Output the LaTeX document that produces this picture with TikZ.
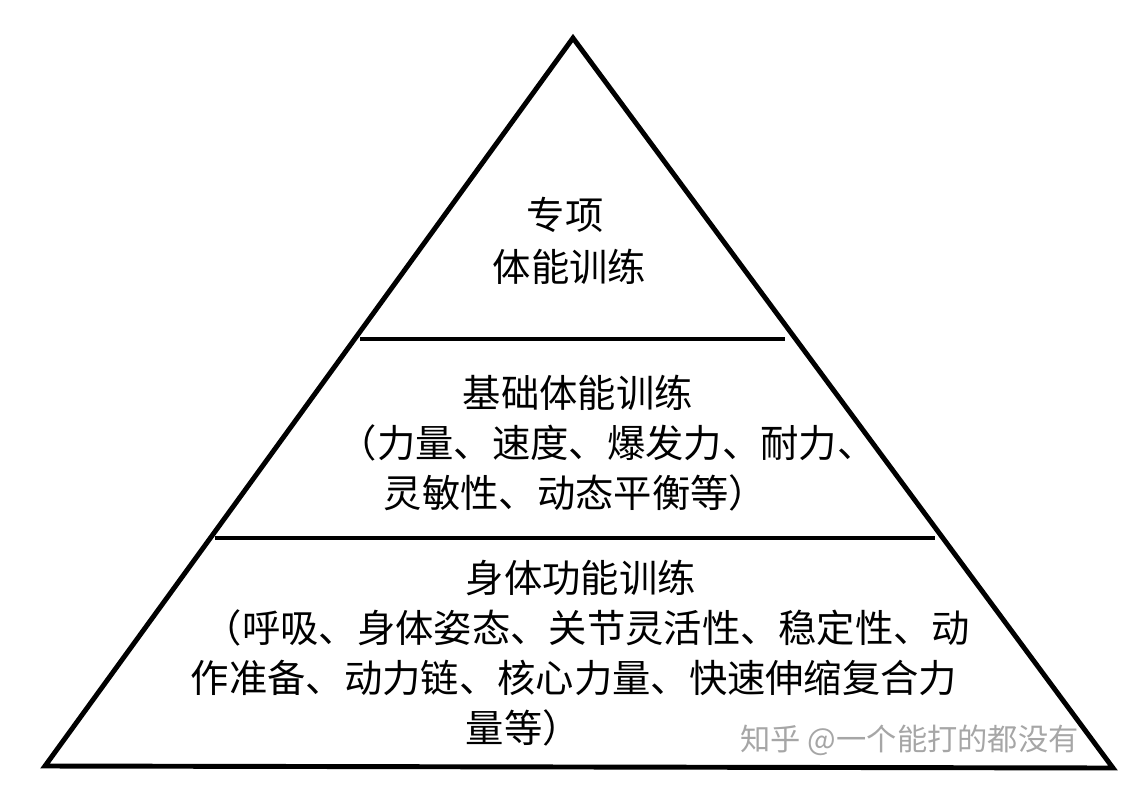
\documentclass[tikz,border=0pt]{standalone}
\usepackage{fontspec}
\setmainfont{Noto Sans CJK SC}
\begin{document}
\begin{tikzpicture}[x=0.01cm, y=-0.01cm]
\tikzset{txt/.style={anchor=west, inner sep=0, font=\fontsize{10.9}{13}\selectfont}}
\useasboundingbox (0,0) rectangle (1138,790);
\coordinate (top) at (573,38);
\coordinate (bl) at (45,766);
\coordinate (br) at (1113,768);
\coordinate (l1) at (360,339);
\coordinate (r1) at (785,339);
\coordinate (l2) at (215,538);
\coordinate (r2) at (935,538);
\draw [line width=1.4pt, line join=miter] (top) -- (bl) -- (br) -- cycle;
\draw [line width=1.4pt] (l1) -- (r1);
\draw [line width=1.4pt] (l2) -- (r2);

\node [txt] (t1) at (526,215) {专项};
\node [txt] (t2) at (492,267) {体能训练};
\node [txt] (m1) at (462,393) {基础体能训练};
\node [txt] (m2) at (338,443) {（力量、速度、爆发力、耐力、};
\node [txt] (m3) at (383,493) {灵敏性、动态平衡等）};
\node [txt] (b1) at (465,578) {身体功能训练};
\node [txt] (b2) at (203,628) {（呼吸、身体姿态、关节灵活性、稳定性、动};
\node [txt] (b3) at (190,678) {作准备、动力链、核心力量、快速伸缩复合力};
\node [txt] (b4) at (465,728) {量等）};

\node [txt, text=black!35, font=\fontsize{8.6}{10}\selectfont] (wm) at (740,740) {知乎 @一个能打的都没有};
\end{tikzpicture}
\end{document}
